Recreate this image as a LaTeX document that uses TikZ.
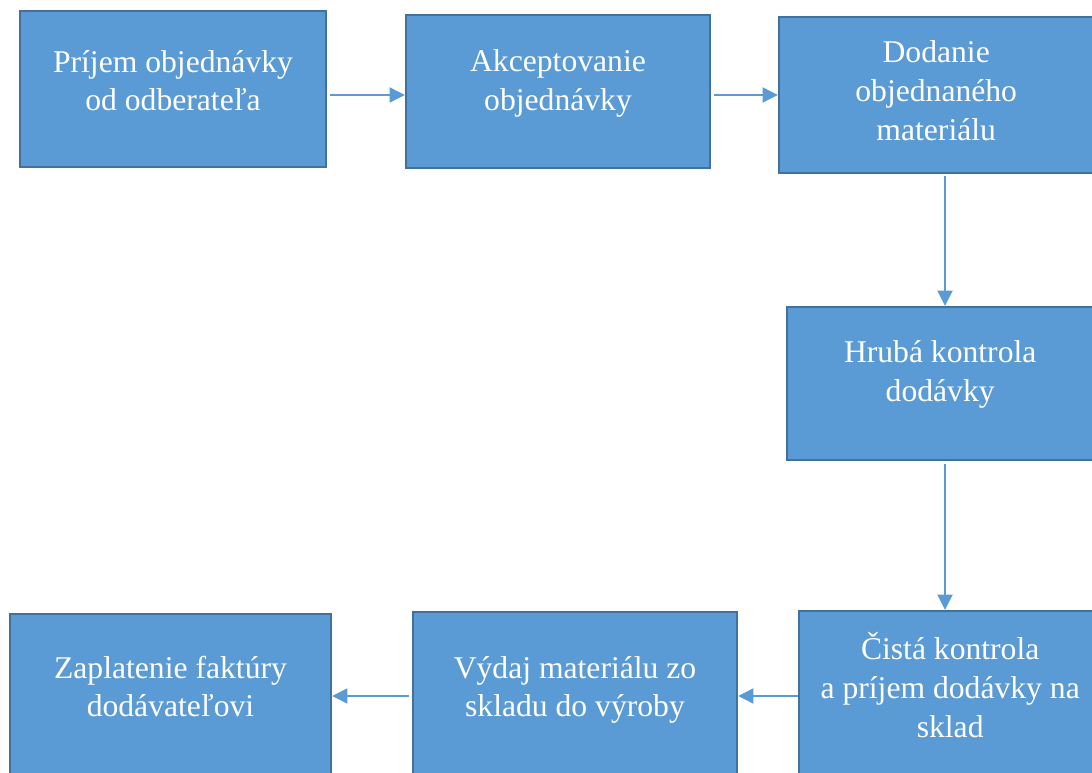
\documentclass[tikz,border=0pt]{standalone}
\usepackage{fontspec}
\setmainfont{Liberation Serif}
\usepackage{tikz}
\usetikzlibrary{arrows.meta}
\definecolor{boxfill}{HTML}{5B9BD5}
\definecolor{boxline}{HTML}{41719C}
\tikzset{
    box/.style={draw = boxline, fill = boxfill, line width = 1.7pt, rectangle, inner sep = 0pt},
    txt/.style={text = white, align = center, font = \fontsize{22.5}{27.5}\selectfont},
    conn/.style={draw = boxfill, line width = 0.9pt, -{Triangle[length = 0.38cm, width = 0.38cm]}},
}

\begin{document}
\begin{tikzpicture}[x = 0.025cm, y = -0.025cm]
\useasboundingbox (0,0) rectangle (1092,773);
\clip (0,0) rectangle (1092,773);
\node[box, minimum width = 7.65cm, minimum height = 3.9cm] (b1) at (173,89) {};
\node[box, minimum width = 7.6cm, minimum height = 3.825cm] (b2) at (558,91.5) {};
\node[box, minimum width = 8.3cm, minimum height = 3.9cm] (b3) at (945,95) {};
\node[box, minimum width = 7.9cm, minimum height = 3.825cm] (b4) at (945,383.5) {};
\node[box, minimum width = 7.8cm, minimum height = 4.225cm] (b5) at (955,695.5) {};
\node[box, minimum width = 8.1cm, minimum height = 4.2cm] (b6) at (575,696) {};
\node[box, minimum width = 8.025cm, minimum height = 4.15cm] (b7) at (170.5,697) {};
\node[txt, yshift = 0.21cm] (t1) at (b1) {Príjem objednávky\\od odberateľa};
\node[txt, yshift = 0.2cm] (t2) at (b2) {Akceptovanie\\objednávky};
\node[txt, xshift = -0.22cm, yshift = 0.11cm] (t3) at (b3) {Dodanie\\objednaného\\materiálu};
\node[txt, xshift = -0.12cm, yshift = 0.22cm] (t4) at (b4) {Hrubá kontrola\\dodávky};
\node[txt, xshift = -0.12cm, yshift = 0.26cm] (t5) at (b5) {Čistá kontrola\\a príjem dodávky na\\sklad};
\node[txt, yshift = 0.15cm] (t6) at (b6) {Výdaj materiálu zo\\skladu do výroby};
\node[txt, yshift = 0.26cm] (t7) at (b7) {Zaplatenie faktúry\\dodávateľovi};
\draw[conn, shorten <= 0.08cm] (b3.west -| b1.east) -- (b3.west -| b2.west);
\draw[conn, shorten <= 0.08cm] (b3.west -| b2.east) -- (b3.west);
\draw[conn, shorten <= 0.05cm] (b3.south) -- (b3.south |- b4.north);
\draw[conn, shorten <= 0.08cm] (b4.south) -- (b4.south |- b5.north);
\draw[conn] (b6.east -| b5.west) -- (b6.east);
\draw[conn, shorten <= 0.08cm] (b6.west) -- (b6.west -| b7.east);
\end{tikzpicture}
\end{document}
